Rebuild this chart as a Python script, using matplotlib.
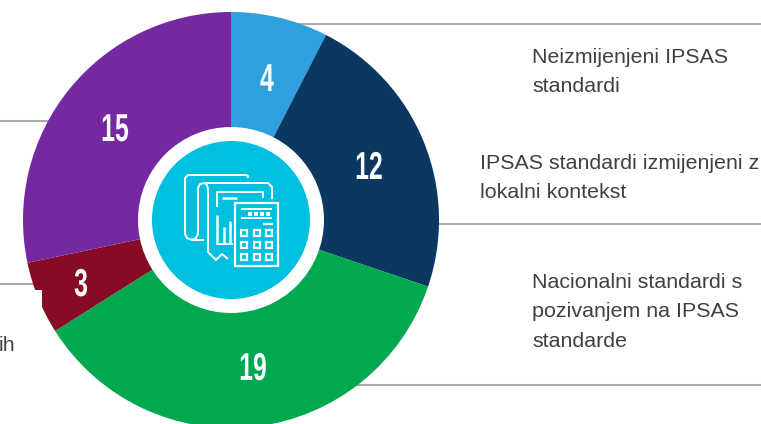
import matplotlib
matplotlib.use("Agg")
import matplotlib.pyplot as plt
import matplotlib.patheffects as pe
from matplotlib.patches import Circle, Rectangle
from matplotlib.transforms import Affine2D

values = [4, 12, 19, 3, 15]
colors = ["#2e9fdf", "#0a3861", "#00a94f", "#850c24", "#7429a0"]
labels = ["4", "12", "19", "3", "15"]
label_pos = [(267, 91), (369, 179), (253, 380), (81, 296), (115, 141)]
captions = [
    (532, 63, "Neizmijenjeni IPSAS"), (532, 92, "standardi"),
    (480, 169, "IPSAS standardi izmijenjeni z"), (480, 198, "lokalni kontekst"),
    (532, 288, "Nacionalni standardi s"), (532, 317, "pozivanjem na IPSAS"), (532, 347, "standarde"),
    (-1, 351, "ih"),
]
rules = [(231, 761, 24), (439, 761, 224), (358, 761, 385), (0, 48, 121), (0, 40, 284)]

W, H = 761, 424
fig = plt.figure(figsize=(W / 100, H / 100), dpi=100, facecolor="white")
ax = fig.add_axes([0, 0, 1, 1])


def Y(y):
    return H - y


# squeezes the digits sideways, no condensed bold font is installed
class Narrow(pe.AbstractPathEffect):
    def __init__(self, x, k=0.64):
        super().__init__()
        self.x, self.k = x, k

    def draw_path(self, renderer, gc, tpath, affine, rgbFace=None):
        squeeze = Affine2D().translate(-self.x, 0).scale(self.k, 1).translate(self.x, 0)
        renderer.draw_path(gc, tpath, affine + squeeze, rgbFace)


cx, cy = 231, Y(220)

for x0, x1, y in rules:
    ax.plot([x0, x1], [Y(y), Y(y)], color="#ababab", lw=1.5, zorder=1)

ax.pie(values, colors=colors, startangle=90, counterclock=False, radius=208, center=(cx, cy),
       wedgeprops={"linewidth": 0, "zorder": 2}, frame=False)
ax.set_xlim(0, W)
ax.set_ylim(0, H)
ax.set_aspect("equal")
ax.axis("off")

# white patch that cuts the lower left of the ring
ax.add_patch(Rectangle((0, 0), 42, Y(290), color="white", lw=0, zorder=3))
ax.add_patch(Circle((cx, cy), 93, color="white", lw=0, zorder=4))
ax.add_patch(Circle((cx, cy), 79, color="#00c0e0", lw=0, zorder=5))

for (x, y), s in zip(label_pos, labels):
    ax.text(x, Y(y), s, color="white", fontsize=28, fontweight="bold", ha="center", va="baseline",
            family=["Liberation Sans", "DejaVu Sans"], zorder=6,
            path_effects=[Narrow(x)])

for x, y, s in captions:
    ax.text(x, Y(y), s, color="#404040", fontsize=15.4, ha="left", va="baseline",
            family=["Liberation Sans", "DejaVu Sans"], zorder=6)


# calculator and paper icon
def line(xs, ys, lw=1.4):
    ax.plot(xs, [Y(v) for v in ys], color="white", lw=lw, zorder=7, solid_capstyle="butt", solid_joinstyle="round")


line([248, 248, 246, 188, 185, 185, 187, 192, 204], [178, 176, 175, 175, 178, 234, 238, 240, 240])
line([272, 272, 268, 205, 200, 198, 198, 196, 192], [199, 187, 183, 183, 184, 188, 234, 238, 240])
line([205, 207, 208, 208, 216, 222, 228], [183, 185, 189, 252, 260, 254, 259])
line([263, 263, 217, 217], [198, 192, 192, 207])
line([222, 237], [198, 198], 1.8)
line([217, 217], [215, 243], 1.8)
line([224, 224], [227, 243], 1.8)
line([230, 230], [221, 243], 1.8)
line([216, 233], [244, 244])
ax.add_patch(Rectangle((235, Y(266)), 43, 63, fill=False, ec="white", lw=1.6, zorder=7))
line([241, 272], [209, 209])
line([241, 272], [218, 218])
ax.scatter([250, 256, 262, 268], [Y(214)] * 4, marker="s", s=6, color="white", lw=0, zorder=7)
line([263, 273], [224, 224], 1.6)
for ky in (233, 245, 257):
    for kx in (244, 257, 269):
        ax.add_patch(Rectangle((kx - 3, Y(ky) - 3), 6, 6, fill=False, ec="white", lw=1.6, zorder=7))

fig.savefig("out.png", dpi=100)
